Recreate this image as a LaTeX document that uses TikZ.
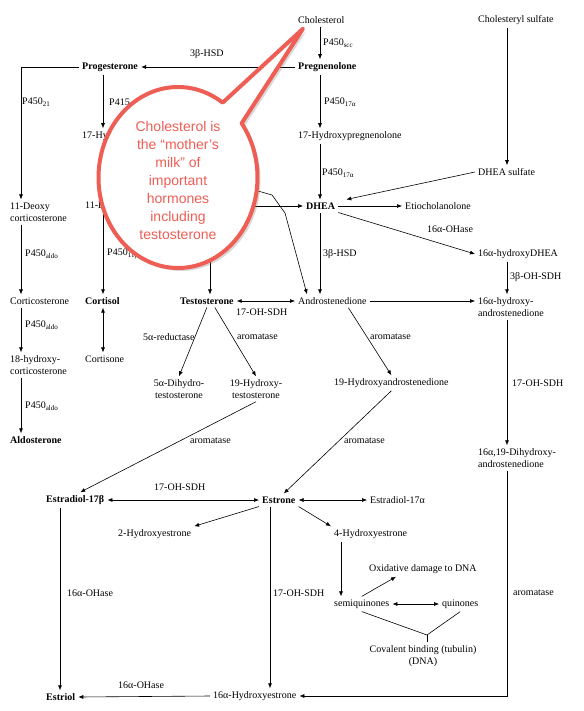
\documentclass[tikz,border=0pt]{standalone}
\usepackage{fontspec}
\setmainfont{Liberation Serif}
\setsansfont{Liberation Sans}
\usepackage{xcolor}
\usetikzlibrary{arrows.meta, positioning, shadows}
\definecolor{bubblered}{HTML}{EF5E55}

\begin{document}
\begin{tikzpicture}[
        x=1pt, y=-1pt,
        every node/.style={anchor=west, align=left, inner xsep=3pt, inner ysep=3pt, font=\fontsize{10}{12}\selectfont},
        hormone/.style={font=\fontsize{10}{12}\selectfont\bfseries},
        enzyme/.style={inner sep=1pt},
        arr/.style={-{Latex[length=5pt,width=4pt]}, line width=0.6pt},
        both/.style={{Latex[length=5pt,width=4pt]}-{Latex[length=5pt,width=4pt]}, line width=0.6pt},
        link/.style={line width=0.6pt},
        bubble/.style={draw=bubblered, line width=4pt, line join=round, fill=white,
            drop shadow={opacity=0.3, shadow xshift=3pt, shadow yshift=-3pt}}
    ]
    \useasboundingbox (0,0) rectangle (583,711);

    % Nodes
    \node (chol) at (295,20) {Cholesterol};
    \node (cholsul) at (475,20) {Cholesteryl sulfate};
    \node[hormone] (preg) at (295,67) {Pregnenolone};
    \node[hormone] (prog) at (79,67) {Progesterone};
    \node (hpreg) at (295,136) {17-Hydroxypregnenolone};
    \node (hprog) at (79,136) {17-Hydroxyprogesterone};
    \node (doc) at (7,212) {11-Deoxy\\corticosterone};
    \node (dcortisol) at (82,206) {11-Deoxycortisol};
    \node[hormone] (dhea) at (303,206) {DHEA};
    \node (etio) at (402,206) {Etiocholanolone};
    \node (dheas) at (475,172) {DHEA sulfate};
    \node (hdhea) at (475,254) {16α-hydroxyDHEA};
    \node (handro) at (475,307) {16α-hydroxy-\\androstenedione};
    \node (andro) at (295,301) {Androstenedione};
    \node[hormone] (testo) at (177,301) {Testosterone};
    \node (cortico) at (7,301) {Corticosterone};
    \node[hormone] (cortisol) at (82,301) {Cortisol};
    \node (cortisone) at (82,359) {Cortisone};
    \node (hcortico) at (7,365) {18-hydroxy-\\corticosterone};
    \node[hormone] (aldo) at (7,440) {Aldosterone};
    \node[anchor=center, align=center] (dht) at (179,389) {5α-Dihydro-\\testosterone};
    \node[anchor=center, align=center] (htesto) at (256,389) {19-Hydroxy-\\testosterone};
    \node (handrene) at (331,383) {19-Hydroxyandrostenedione};
    \node (dihandro) at (475,458) {16α,19-Dihydroxy-\\androstenedione};
    \node[hormone] (estradiolb) at (43,500) {Estradiol-17β};
    \node[hormone] (estrone) at (259,500) {Estrone};
    \node (estradiola) at (367,500) {Estradiol-17α};
    \node (hydroxytwo) at (115,534) {2-Hydroxyestrone};
    \node (hydroxyfour) at (331,534) {4-Hydroxyestrone};
    \node (oxid) at (366,569) {Oxidative damage to DNA};
    \node (semi) at (331,604) {semiquinones};
    \node (quin) at (439,604) {quinones};
    \node[anchor=center, align=center] (coval) at (423,656) {Covalent binding (tubulin)\\(DNA)};
    \node[hormone] (estriol) at (43,697) {Estriol};
    \node (hydroxysixteen) at (210,696) {16α-Hydroxyestrone};

    % Enzymes
    \node[enzyme] (sccLbl) at (322,43) {P450\textsubscript{scc}};
    \node[enzyme] (hsdA) at (189,54) {3β-HSD};
    \node[enzyme] (cypA) at (21,102) {P450\textsubscript{21}};
    \node[enzyme] (cypB) at (108,102) {P415};
    \node[enzyme] (cypC) at (323,102) {P450\textsubscript{17α}};
    \node[enzyme] (cypD) at (321,173) {P450\textsubscript{17α}};
    \node[enzyme] (ohaseA) at (426,229) {16α-OHase};
    \node[enzyme] (aldoA) at (24,254) {P450\textsubscript{aldo}};
    \node[enzyme] (cypE) at (106,254) {P450\textsubscript{11β}};
    \node[enzyme] (hsdB) at (322,254) {3β-HSD};
    \node[enzyme] (sdhA) at (509,277) {3β-OH-SDH};
    \node[enzyme] (sdhB) at (235,312) {17-OH-SDH};
    \node[enzyme] (aldoB) at (24,325) {P450\textsubscript{aldo}};
    \node[enzyme] (reduct) at (142,337) {5α-reductase};
    \node[enzyme] (aromA) at (236,337) {aromatase};
    \node[enzyme] (aromB) at (369,337) {aromatase};
    \node[enzyme] (sdhC) at (511,383) {17-OH-SDH};
    \node[enzyme] (aldoC) at (24,406) {P450\textsubscript{aldo}};
    \node[enzyme] (aromC) at (189,441) {aromatase};
    \node[enzyme] (aromD) at (343,441) {aromatase};
    \node[enzyme] (sdhD) at (153,487) {17-OH-SDH};
    \node[enzyme] (ohaseB) at (66,593) {16α-OHase};
    \node[enzyme] (sdhE) at (272,593) {17-OH-SDH};
    \node[enzyme] (aromE) at (512,593) {aromatase};
    \node[enzyme] (ohaseC) at (117,685) {16α-OHase};

    % Columns
    \coordinate (cl) at (21,0);
    \coordinate (cm) at (103,0);
    \coordinate (cc) at (320,0);
    \coordinate (cr) at (507,0);
    \coordinate (ce) at (60,0);
    \coordinate (cf) at (270,0);
    \coordinate (cg) at (341,0);
    \coordinate (hidA) at (258,191);
    \coordinate (hidB) at (240,206);
    \coordinate (hidC) at (210,240);
    \coordinate (junction) at (427,635);

    % Arrows
    \draw[arr] (chol.south -| cc) -- (preg.north -| cc);
    \draw[arr] (preg.west) -- (prog.east);
    \draw[arr] (prog.west) -- (prog.west -| cl) -- (doc.north -| cl);
    \draw[arr] (prog.south -| cm) -- (hprog.north -| cm);
    \draw[arr] (preg.south -| cc) -- (hpreg.north -| cc);
    \draw[arr] (hpreg.south -| cc) -- (dhea.north -| cc);
    \draw[arr] (cholsul.south -| cr) -- (dheas.north -| cr);
    \draw[arr] (dheas.west) -- ([xshift=8pt]dhea.north east);
    \draw[arr] (dhea.east) -- (etio.west);
    \draw[arr] (dhea.south east) -- (hdhea.west);
    \draw[arr] (hdhea.south -| cr) -- (handro.north -| cr);
    \draw[arr] (dhea.south -| cc) -- (andro.north -| cc);
    \draw[arr] (andro.east) -- (handro.west |- andro.east);
    \draw[both] (testo.east) -- (andro.west);
    \draw[arr] (hidA) -- (272,195) -- (285,213) -- ([xshift=12pt]andro.north west);
    \draw[arr] (hidB) -- (dhea.west);
    \draw[arr] (hidC) -- (testo.north -| hidC);
    \draw[arr] (doc.south -| cl) -- (cortico.north -| cl);
    \draw[arr] (cortico.south -| cl) -- (hcortico.north -| cl);
    \draw[arr] (hcortico.south -| cl) -- (aldo.north -| cl);
    \draw[arr] (dcortisol.south -| cm) -- (cortisol.north -| cm);
    \draw[both] (cortisol.south -| cm) -- (cortisone.north -| cm);
    \draw[arr] (testo.south) -- (dht.north);
    \draw[arr] ([xshift=8pt]testo.south) -- (htesto.north);
    \draw[arr] ([xshift=16pt]andro.south) -- (handrene.north);
    \draw[arr] (htesto.south) -- ([xshift=5pt]estradiolb.north);
    \draw[arr] (handrene.south) -- ([xshift=5pt]estrone.north);
    \draw[arr] (handro.south -| cr) -- (dihandro.north -| cr);
    \draw[arr] (dihandro.south -| cr) -- (hydroxysixteen.east -| cr) -- (hydroxysixteen.east);
    \draw[both] (estradiolb.east) -- (estrone.west);
    \draw[both] (estrone.east) -- (estradiola.west);
    \draw[arr] (estrone.south west) -- (hydroxytwo.north east);
    \draw[arr] (estrone.south east) -- (hydroxyfour.north west);
    \draw[arr] (hydroxyfour.south -| cg) -- (semi.north -| cg);
    \draw[arr] (semi.north) -- ([xshift=30pt]oxid.south west);
    \draw[both] (semi.east) -- (quin.west);
    \draw[link] (semi.south) -- (junction) -- (quin.south);
    \draw[link] (junction) -- (coval.north -| junction);
    \draw[arr] (estradiolb.south -| ce) -- (estriol.north -| ce);
    \draw[arr] (estrone.south -| cf) -- (hydroxysixteen.north -| cf);
    \draw[arr] (hydroxysixteen.west) -- (estriol.east);

    % Callout
    \coordinate (bubblec) at (178,177.5);
    \coordinate (tip) at ([xshift=8pt,yshift=-2pt]chol.south west);
    \draw[bubble] (bubblec) ++(-36.8:79.5 and 90.5)
        arc[start angle=-36.8, end angle=304.2, x radius=79.5, y radius=90.5] -- (tip) -- cycle;
    \node[anchor=center, align=center, text=bubblered, font=\sffamily\fontsize{14}{18}\selectfont] (bubbletext) at (178,180)
        {Cholesterol is\\the “mother’s\\milk” of\\important\\hormones\\including\\testosterone};
\end{tikzpicture}
\end{document}
